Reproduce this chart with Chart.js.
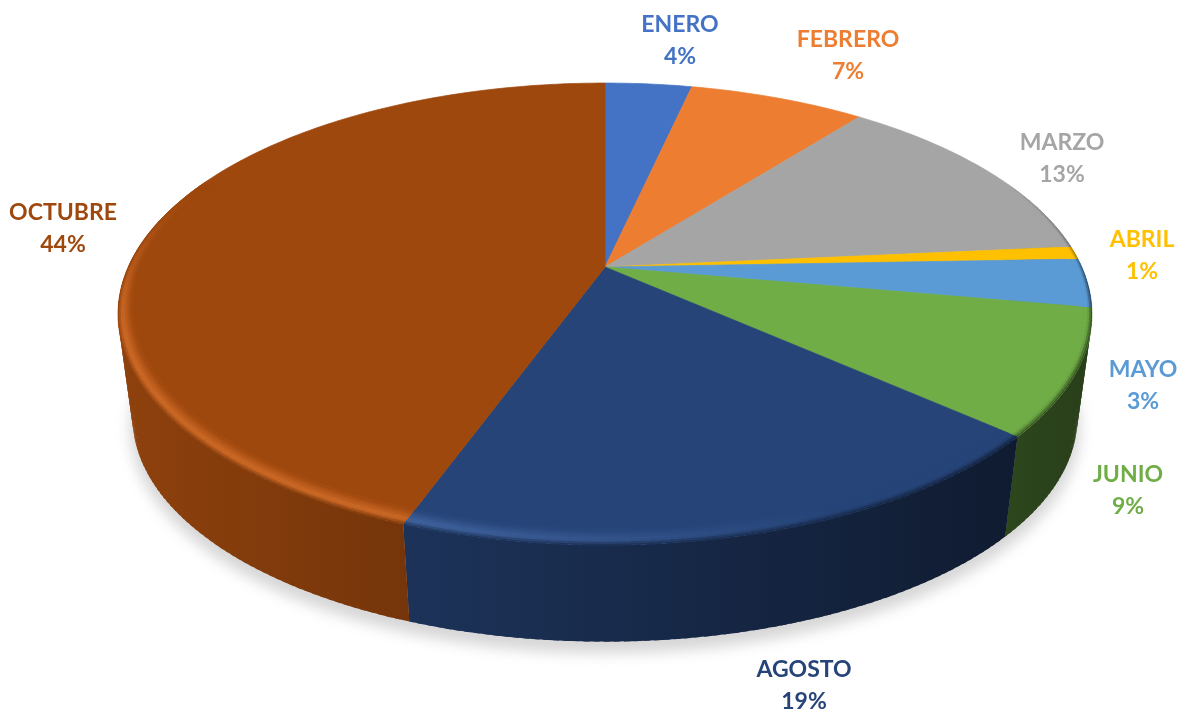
<!DOCTYPE html>
<html>
<head>
<meta charset="utf-8">
<style>
  html, body { margin: 0; padding: 0; background: #fff; }
  canvas { display: block; }
</style>
<script src="https://cdn.jsdelivr.net/npm/chart.js@4"></script>
</head>
<body>
<canvas id="chartjs" width="1184" height="713"></canvas>
<script>
const months = ["ENERO", "FEBRERO", "MARZO", "ABRIL", "MAYO", "JUNIO", "AGOSTO", "OCTUBRE"];
const shares = [3.5, 7.1, 12.9, 0.9, 3.4, 8.7, 19, 44.4];
const sliceColors = ["#4472c4", "#ed7d31", "#a5a5a5", "#ffc000", "#5b9bd5", "#70ad47", "#264478", "#9e480e"];

// centre of each text block, the two lines sit 32px apart
const labelX = [680, 848, 1062, 1142, 1143, 1128, 804, 63];
const labelY = [25, 40, 143, 240, 370, 475, 670, 213];

// perspective of the disc: apex, half axes, tilt, and how the lower rim sits
const view = { cx: 605, cy: 267, b: 476.8, a: 221.4, k: 0.2035, s: 0.97, dy: 105 };

const hexRgb = (hex) => [1, 3, 5].map((i) => parseInt(hex.slice(i, i + 2), 16));
const css = (c) => `rgb(${c.map((n) => Math.round(Math.min(255, n))).join(",")})`;
const mix = (c, d, t) => c.map((n, i) => n + (d[i] - n) * t);
const clamp = (t) => Math.max(0, Math.min(1, t));
const STEP = Math.PI / 180;

const project = (angle, r, lower) => {
  const u = r * Math.cos(angle);
  const v = r * Math.sin(angle);
  const w = 1 - view.k * v;
  let x = (view.b * u) / w;
  let y = (view.a * v) / w;
  if (lower) {
    x *= view.s;
    y = y * view.s + view.dy;
  }
  return [view.cx + x, view.cy + y];
};

const trace = (ctx, pts) => {
  ctx.beginPath();
  pts.forEach((p, i) => (i ? ctx.lineTo(p[0], p[1]) : ctx.moveTo(p[0], p[1])));
  ctx.closePath();
};

const shadeAt = (u) => 0.63 - 0.27 * u;
const sideColor = (base, angle) => mix([0, 0, 0], base, shadeAt(Math.cos(angle)));

const drawShadow = (ctx) => {
  const pts = [];
  for (let d = 0; d < 360; d += 2) {
    const p = project(d * STEP, 1.005, true);
    pts.push([p[0], p[1] + 10]);
  }
  ctx.save();
  ctx.filter = "blur(7px)";
  trace(ctx, pts);
  ctx.fillStyle = "#d6d6d6";
  ctx.fill();
  ctx.restore();
};

const anglesOf = (arc) => {
  const list = [];
  for (let a = arc.startAngle; a < arc.endAngle; a += STEP) list.push(a);
  list.push(arc.endAngle);
  return list;
};

// one quad per degree, each running a little into the next so no seams show
const drawSide = (ctx, arc, base) => {
  const left = view.cx - view.b * 1.02;
  const right = view.cx + view.b * 1.02;
  const grad = ctx.createLinearGradient(left, 0, right, 0);
  for (let i = 0; i <= 10; i++) {
    grad.addColorStop(i / 10, css(mix([0, 0, 0], base, shadeAt(i / 5 - 1))));
  }
  ctx.fillStyle = grad;
  for (let a = arc.startAngle; a < arc.endAngle; a += STEP) {
    if (Math.sin(a) < -0.4) continue;
    const next = Math.min(a + STEP * 1.6, arc.endAngle);
    trace(ctx, [project(a, 1), project(next, 1), project(next, 1, true), project(a, 1, true)]);
    ctx.fill();
  }
};

const drawFace = (ctx, arc, base) => {
  const pts = anglesOf(arc).map((a) => project(a, 1));
  trace(ctx, [[view.cx, view.cy]].concat(pts));
  ctx.fillStyle = css(base);
  ctx.strokeStyle = css(base);
  ctx.lineWidth = 0.7;
  ctx.fill();
  ctx.stroke();
};

// the rounded edge of the top: lit on the left, falling into shade on the right
const drawBevel = (ctx, arc, base) => {
  const rings = 8;
  for (let a = arc.startAngle; a < arc.endAngle; a += STEP) {
    const next = Math.min(a + STEP * 1.6, arc.endAngle);
    const mid = a + STEP / 2;
    const u = Math.cos(mid);
    const v = Math.sin(mid);
    const fade = clamp((v + 0.4) / 0.5);
    if (fade <= 0) continue;
    const inner = 0.975 - 0.025 * clamp(v);
    const lit = clamp((0.4 - u) / 0.8) * clamp(v + 0.7);
    const peak = mix(base.map((n) => n * (1 + 0.28 * lit)), [255, 255, 255], 0.09 * lit);
    const side = sideColor(base, mid);
    // outermost ring first, each one covers from its inner radius out to the edge
    for (let i = rings - 1; i >= 0; i--) {
      const t = (i + 0.5) / rings;
      const shade = t < 0.65 ? mix(base, peak, t / 0.65) : mix(peak, side, (t - 0.65) / 0.35);
      const r1 = inner + ((1 - inner) * i) / rings;
      const r2 = i === rings - 1 ? 1 : inner + ((1 - inner) * (i + 1.5)) / rings;
      trace(ctx, [project(a, r1), project(next, r1), project(next, r2), project(a, r2)]);
      ctx.fillStyle = css(mix(base, shade, fade));
      ctx.fill();
    }
  }
};

const pie3d = {
  id: "pie3d",
  beforeDatasetsDraw(chart) {
    const ctx = chart.ctx;
    const meta = chart.getDatasetMeta(0);
    const colors = chart.data.datasets[0].backgroundColor.map(hexRgb);
    ctx.save();
    drawShadow(ctx);
    meta.data.forEach((arc, i) => drawSide(ctx, arc, colors[i]));
    meta.data.forEach((arc, i) => drawFace(ctx, arc, colors[i]));
    meta.data.forEach((arc, i) => drawBevel(ctx, arc, colors[i]));
    ctx.restore();
    return false;
  },
  afterDraw(chart) {
    const ctx = chart.ctx;
    const values = chart.data.datasets[0].data;
    const total = values.reduce((sum, n) => sum + n, 0);
    ctx.save();
    ctx.font = "bold 23px Lato";
    ctx.textAlign = "center";
    ctx.textBaseline = "middle";
    chart.data.labels.forEach((label, i) => {
      ctx.fillStyle = chart.data.datasets[0].backgroundColor[i];
      ctx.fillText(label, labelX[i], labelY[i]);
      ctx.fillText(`${Math.round((values[i] / total) * 100)}%`, labelX[i], labelY[i] + 32);
    });
    ctx.restore();
  }
};

new Chart(document.getElementById("chartjs"), {
  type: "pie",
  data: {
    labels: months,
    datasets: [{ data: shares, backgroundColor: sliceColors, borderWidth: 0 }]
  },
  options: {
    responsive: false,
    animation: false,
    plugins: { legend: { display: false }, tooltip: { enabled: false } }
  },
  plugins: [pie3d]
});
</script>
</body>
</html>
